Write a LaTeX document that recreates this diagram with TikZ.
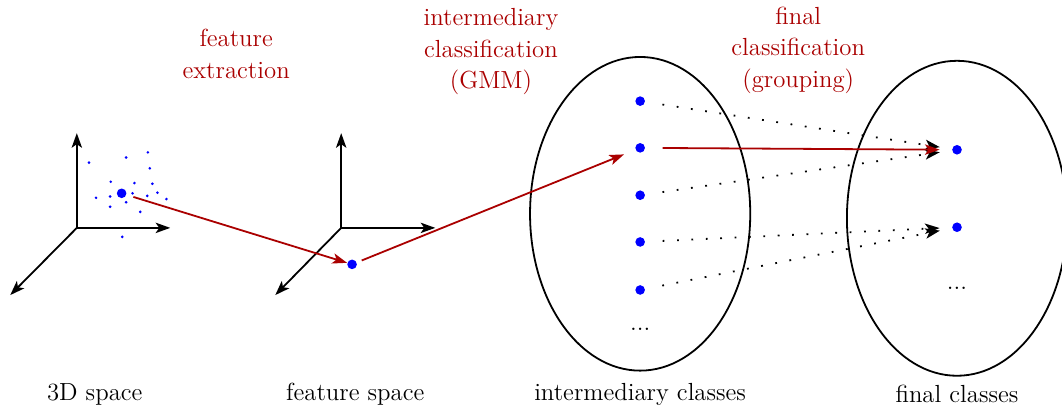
\documentclass[tikz,border=0pt]{standalone}
\usepackage{amsmath,amssymb}
\usetikzlibrary{arrows.meta,positioning}

\definecolor{darkred}{RGB}{170,0,0}
\tikzset{
    every node/.style={font=\fontsize{11}{14}\selectfont},
    tip/.style={-{Stealth[length=6.5pt,width=4.6pt,inset=1.6pt]}},
    axis/.style={thick,tip},
    bigdot/.style={circle,fill=blue,inner sep=0pt,minimum size=0.15cm},
    smalldot/.style={circle,fill=blue,inner sep=0pt,minimum size=0.045cm},
    redarrow/.style={thick,darkred,tip},
    dotarrow/.style={line width=0.8pt,dash pattern=on 0.8pt off 5.6pt,tip},
    steplabel/.style={darkred,align=center},
    spacelabel/.style={anchor=base}
}

\begin{document}
\begin{tikzpicture}
\useasboundingbox (0,0) rectangle (16.59,6.36);
% 3D space
\coordinate (o1) at (1.20,2.80);
\draw [axis] (o1) -- (1.20,4.28);
\draw [axis] (o1) -- (2.66,2.80);
\draw [axis] (o1) -- (0.16,1.75);
\foreach \p in {(1.39,3.82),(1.97,3.90),(2.31,3.98),(2.34,3.73),(1.73,3.52),
    (2.10,3.50),(2.38,3.49),(2.07,3.34),(2.46,3.35),(2.30,3.30),(2.60,3.25),
    (1.50,3.27),(1.72,3.29),(1.72,3.13),(1.97,3.20),(2.19,3.05),(1.91,2.66)}
    \node [smalldot] at \p {};
\node [bigdot] (p3d) at (1.90,3.34) {};
% feature space
\coordinate (o2) at (5.33,2.80);
\draw [axis] (o2) -- (5.33,4.28);
\draw [axis] (o2) -- (6.80,2.80);
\draw [axis] (o2) -- (4.30,1.75);
\node [bigdot] (pf) at (5.50,2.23) {};
% intermediary classes
\draw [thick] (10.00,3.02) ellipse (1.72 and 2.45);
\foreach \y [count=\i] in {4.78,4.05,3.31,2.58,1.83}
    \node [bigdot] (i\i) at (10.00,\y) {};
\node (idots) at (10.00,1.21) {...};
% final classes
\draw [thick] (14.95,2.95) ellipse (1.72 and 2.46);
\node [bigdot] (f1) at (14.95,4.02) {};
\node [bigdot] (f2) at (14.95,2.81) {};
\node (fdots) at (14.95,1.85) {...};
% connectors
\draw [redarrow,shorten <=0.11cm] (p3d) -- (pf);
\draw [redarrow,shorten <=0.08cm,shorten >=0.19cm] (pf) -- (i2);
\draw [dotarrow,shorten <=0.27cm,shorten >=0.19cm] (i1) -- (f1);
\draw [dotarrow,shorten <=0.27cm,shorten >=0.19cm] (i3) -- (f1);
\draw [dotarrow,shorten <=0.27cm,shorten >=0.19cm] (i4) -- (f2);
\draw [dotarrow,shorten <=0.27cm,shorten >=0.19cm] (i5) -- (f2);
\draw [redarrow,shorten <=0.27cm,shorten >=0.19cm] (i2) -- (f1);
% labels
\node [steplabel] (l1) at (3.69,5.52) {feature\\extraction};
\node [steplabel] (l2) at (7.67,5.55) {intermediary\\classification\\(GMM)};
\node [steplabel] (l3) at (12.47,5.58) {final\\classification\\(grouping)};
\node [spacelabel] (t1) at (1.48,0.10) {3D space};
\node [spacelabel] (t2) at (5.55,0.10) {feature space};
\node [spacelabel] (t3) at (10.00,0.10) {intermediary classes};
\node [spacelabel] (t4) at (14.95,0.08) {final classes};
\end{tikzpicture}
\end{document}
